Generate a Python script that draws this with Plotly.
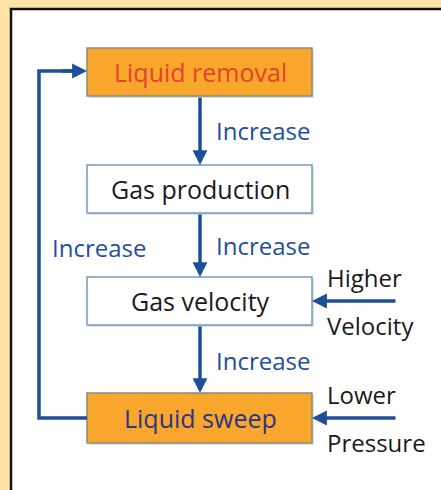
import plotly.graph_objects as go

# ---- content ----
node_labels = ["Liquid removal", "Gas production", "Gas velocity", "Liquid sweep"]
edge_labels = ["Increase", "Increase", "Increase", "Increase"]
side_labels = [("Higher", "Velocity"), ("Lower", "Pressure")]

# ---- layout (pixel coords, y down) ----
box_x0, box_x1 = 87, 312
box_y = [(48, 96), (165, 213), (277, 325), (393, 443)]
box_fill = ["#F9A62C", "#FFFFFF", "#FFFFFF", "#F9A62C"]
box_line = ["#8a8a80", "#6f9cb8", "#6f9cb8", "#8a8a80"]
text_col = ["#E5432C", "#1a1a1a", "#1a1a1a", "#2B3585"]
BLUE = "#1F4E9A"
FONT = "Open Sans"
FS = 24
FS_BOX = 25

fig = go.Figure()
shapes = []
annotations = []

# outer panel
shapes.append(dict(type="rect", x0=11, y0=9, x1=460, y1=510, xref="x", yref="y",
                   fillcolor="white", line=dict(color="#111111", width=2.5), layer="below"))

cx = (box_x0 + box_x1) / 2
for i, lab in enumerate(node_labels):
    y0, y1 = box_y[i]
    # shadow
    shapes.append(dict(type="rect", x0=box_x0 + 2, y0=y0 + 2, x1=box_x1 + 2, y1=y1 + 2,
                       fillcolor="rgba(0,0,0,0.12)", line=dict(width=0), layer="below"))
    shapes.append(dict(type="rect", x0=box_x0, y0=y0, x1=box_x1, y1=y1,
                       fillcolor=box_fill[i], line=dict(color=box_line[i], width=1.5)))
    annotations.append(dict(x=cx + 1, y=(y0 + y1) / 2, text=lab, showarrow=False,
                            font=dict(family=FONT, size=FS_BOX, color=text_col[i]),
                            xanchor="center", yanchor="middle"))

ax = 200
# vertical arrows between boxes
for i in range(3):
    annotations.append(dict(x=ax, y=box_y[i + 1][0], ax=ax, ay=box_y[i][1],
                            xref="x", yref="y", axref="x", ayref="y", text="",
                            showarrow=True, arrowhead=2, arrowsize=0.85, arrowwidth=3.5,
                            arrowcolor=BLUE))

# edge labels
edge_pos = [(214, 130), (214, 245), (214, 360), (50, 247)]
for (x, y), lab in zip(edge_pos, edge_labels):
    annotations.append(dict(x=x, y=y, text=lab, showarrow=False, xanchor="left",
                            yanchor="middle", font=dict(family=FONT, size=FS, color=BLUE)))

# feedback loop
shapes.append(dict(type="path", path="M 87 418 L 39 418 L 39 71 L 80 71",
                   line=dict(color=BLUE, width=3.5)))
annotations.append(dict(x=box_x0, y=71, ax=60, ay=71, xref="x", yref="y", axref="x",
                        ayref="y", text="", showarrow=True, arrowhead=2, arrowsize=0.85,
                        arrowwidth=3.5, arrowcolor=BLUE))

# side inputs
side_y = [301, 418]
for (top, bot), y in zip(side_labels, side_y):
    annotations.append(dict(x=box_x1, y=y, ax=397, ay=y, xref="x", yref="y", axref="x",
                            ayref="y", text="", showarrow=True, arrowhead=2, arrowsize=0.85,
                            arrowwidth=3.5, arrowcolor=BLUE))
    annotations.append(dict(x=325, y=y - 24, text=top, showarrow=False, xanchor="left",
                            yanchor="middle", font=dict(family=FONT, size=FS, color="#1a1a1a")))
    annotations.append(dict(x=325, y=y + 24, text=bot, showarrow=False, xanchor="left",
                            yanchor="middle", font=dict(family=FONT, size=FS, color="#1a1a1a")))

fig.update_layout(
    width=441, height=490, margin=dict(l=0, r=0, t=0, b=0),
    paper_bgcolor="#FDE3A6", plot_bgcolor="#FDE3A6",
    xaxis=dict(range=[0, 441], visible=False, fixedrange=True),
    yaxis=dict(range=[490, 0], visible=False, fixedrange=True),
    shapes=shapes, annotations=annotations, showlegend=False,
)
fig.write_html("out.html", config={"displayModeBar": False},
               post_script="document.body.style.margin='0';document.body.style.overflow='hidden';")
